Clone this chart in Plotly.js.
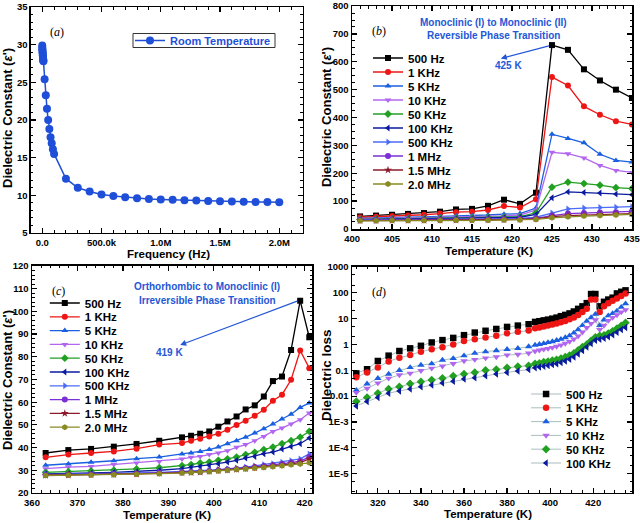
<!DOCTYPE html>
<html><head><meta charset="utf-8">
<script src="https://cdn.plot.ly/plotly-3.0.1.min.js"></script>
<style>html,body{margin:0;padding:0;background:#fff}#chart{width:640px;height:523px}</style>
</head><body><div id="chart"></div><script>
// ---------- Panel (a) ----------
var freqA = [100,500,1000,2000,3000,4000,5000,6000,7000,8000,9000,10000,
  20000,30000,40000,50000,60000,70000,80000,90000,100000,
  200000,300000,400000,500000,600000,700000,800000,900000,1000000,
  1100000,1200000,1300000,1400000,1500000,1600000,1700000,1800000,1900000,2000000];
var epsA = [29.9,29.6,29.4,29.2,29.0,28.8,28.6,28.4,28.2,28.0,27.9,27.8,
  25.4,23.3,21.5,20.0,18.8,17.7,16.9,16.1,15.5,
  12.2,11.0,10.5,10.1,9.9,9.75,9.6,9.5,9.45,
  9.4,9.35,9.3,9.25,9.2,9.18,9.15,9.12,9.1,9.08];
var nameA = 'Room Temperature';
var tickValsA = [0,500000,1000000,1500000,2000000];
var tickTextA = ['0.0','500.0k','1.0M','1.5M','2.0M'];

// ---------- Panel (b) ----------
var tempB = [401,403,405,407,409,411,413,415,417,419,421,423,425,427,429,431,433,435];
var namesB = ['500 Hz','1 KHz','5 KHz','10 KHz','50 KHz','100 KHz','500 KHz','1 MHz','1.5 MHz','2.0 MHz'];
var b500  = [45,48,51,54,57,62,70,72,83,105,90,130,660,643,573,533,500,470];
var b1k   = [42,44,46,48,51,55,60,62,68,82,77,107,545,515,440,410,387,375];
var b5k   = [38,39,40,42,43,45,47,48,50,53,55,75,340,325,309,268,246,240];
var b10k  = [36,37,38,39,40,41,43,44,45,47,50,68,275,270,255,228,210,203];
var b50k  = [34,35,35,36,37,38,39,40,41,42,44,58,150,168,163,157,148,145];
var b100k = [33,34,34,35,35,36,37,38,39,40,42,52,112,133,131,129,125,123];
var b500k = [32,32,33,33,34,34,35,35,36,37,38,42,57,72,75,77,78,80];
var b1M   = [31,31,32,32,32,33,33,34,34,35,36,38,48,55,57,59,60,63];
var b15M  = [30,30,31,31,31,32,32,32,33,33,34,36,44,48,50,52,53,55];
var b2M   = [29,29,30,30,30,30,31,31,31,32,32,34,40,44,46,48,50,52];
var seriesB = [b500,b1k,b5k,b10k,b50k,b100k,b500k,b1M,b15M,b2M];

// ---------- Panel (c) ----------
var tempC = [363,368,373,378,383,388,393,395,397,399,401,403,405,407,409,411,413,415,417,419,421];
var c500  = [37.6,38.9,39.4,40.4,41.6,43.0,44.5,45.2,46.1,47.1,49.2,51.5,53.7,56.8,58.6,62.5,69.3,71.3,83.0,104.7,88.6];
var c1k   = [35.7,36.9,37.6,38.3,39.5,41.3,42.0,43.0,43.9,44.9,46.1,47.9,49.9,51.8,54.0,56.7,60.6,63.3,69.9,82.8,75.0];
var c5k   = [32.2,32.8,33.5,34.2,35.1,35.8,37.2,37.6,38.3,39.1,40.2,41.7,43.0,44.6,46.4,48.3,50.4,52.6,54.7,57.7,59.6];
var c10k  = [30.7,31.4,31.7,32.5,33.2,33.9,35.0,35.7,36.1,36.9,37.6,38.6,40.1,41.3,43.0,44.9,47.1,48.6,50.4,52.3,55.2];
var c50k  = [29.1,29.4,29.7,30.0,30.6,31.1,32.0,32.5,33.2,33.6,34.4,35.0,35.8,36.9,37.9,39.1,40.2,41.7,43.0,44.6,47.1];
var c100k = [28.4,28.5,28.8,29.1,29.4,30.0,30.7,31.3,31.7,32.2,32.9,33.6,34.4,35.4,36.1,37.3,38.0,39.4,40.5,41.7,44.2];
var c500k = [28.1,28.2,28.4,28.5,28.8,29.1,29.4,29.5,29.7,30.0,30.3,30.6,31.0,31.4,31.9,32.5,32.9,33.5,34.2,35.0,37.2];
var c1M   = [27.9,28.0,28.2,28.3,28.5,28.8,29.1,29.2,29.4,29.7,30.0,30.3,30.6,31.0,31.4,31.9,32.3,32.8,33.4,34.0,35.8];
var c15M  = [27.8,27.9,28.0,28.1,28.3,28.6,28.9,29.0,29.2,29.5,29.8,30.1,30.4,30.7,31.1,31.5,31.9,32.3,32.8,33.4,35.0];
var c2M   = [27.7,27.8,27.9,28.0,28.2,28.5,28.8,29.0,29.2,29.4,29.7,30.0,30.3,30.6,30.9,31.2,31.6,32.0,32.4,32.8,33.3];
var seriesC = [c500,c1k,c5k,c10k,c50k,c100k,c500k,c1M,c15M,c2M];

// ---------- Panel (d) ----------
var tempD = [310,315,320,325,330,335,340,345,350,355,360,365,370,375,380,385,390,
  393,395,397,399,401,403,405,407,409,411,413,415,417,419,421,423,425,427,429,431,433,435];
var namesD = ['500 Hz','1 KHz','5 KHz','10 KHz','50 KHz','100 KHz'];
var d500  = [0.076,0.11,0.23,0.37,0.56,0.71,0.89,1.2,1.48,1.8,2.3,2.9,3.4,4.0,4.8,5.4,6.1,
  7.5,8.0,8.6,9.2,10,11,12.5,14,16,19,24,30,40,90,90,30,45,55,65,95,110,125];
var d1k   = [0.054,0.082,0.13,0.22,0.31,0.39,0.53,0.65,0.78,1.0,1.36,1.6,1.88,2.2,2.7,3.1,3.5,
  4.3,4.6,5.0,5.4,5.9,6.5,7.3,8.2,9.5,11,14,18,24,55,55,18,30,40,50,60,75,95];
var d5k   = [0.017,0.03,0.049,0.072,0.1,0.13,0.16,0.18,0.25,0.29,0.37,0.46,0.53,0.58,0.65,0.71,0.83,
  0.95,1.02,1.1,1.2,1.3,1.45,1.6,1.85,2.2,2.8,3.8,5.5,8,11,15,5.5,9,13,16,20,28,38];
var d10k  = [0.0137,0.02,0.032,0.049,0.066,0.077,0.097,0.12,0.145,0.18,0.23,0.26,0.3,0.33,0.39,0.41,0.46,
  0.55,0.6,0.65,0.7,0.76,0.84,0.95,1.1,1.3,1.6,2.1,3,4.5,6.5,9,3.8,5.5,8.5,11,14,18,22];
var d50k  = [0.0062,0.0088,0.013,0.019,0.023,0.03,0.036,0.042,0.049,0.06,0.072,0.083,0.1,0.107,0.125,0.14,0.15,
  0.18,0.19,0.21,0.22,0.24,0.26,0.29,0.33,0.38,0.46,0.6,0.8,1.0,1.4,1.9,2.2,2.3,2.7,3.3,4.2,5.3,7];
var d100k = [0.0042,0.0062,0.0088,0.013,0.016,0.019,0.023,0.027,0.032,0.038,0.046,0.052,0.062,0.072,0.083,0.095,0.107,
  0.125,0.135,0.145,0.155,0.17,0.18,0.2,0.23,0.27,0.33,0.43,0.58,0.8,1.1,1.45,1.6,1.75,2.0,2.4,3.0,3.8,4.6];
var seriesD = [d500,d1k,d5k,d10k,d50k,d100k];
var tickValsD = [1e-5,1e-4,1e-3,0.01,0.1,1,10,100,1000];
var tickTextD = ['1E-5','1E-4','1E-3','0.01','0.1','1','10','100','1000'];

// ---------- styles ----------
var colors  = ['#000000','#ee1515','#1a5fe0','#b266f0','#22a022','#0a1a9e','#4a6cf7','#7b2fd6','#8c1a2a','#8a8a22'];
var symbols = ['square','circle','triangle-up','triangle-down','diamond','triangle-left','triangle-right','circle','star','hexagon'];
var blue = '#2457d6';
var F = 'Liberation Sans, Arial, sans-serif';
var SERIF = 'Liberation Serif, Times New Roman, serif';
var H = 523;

var layout = {
  width:640, height:H, margin:{l:0,r:0,t:0,b:0},
  paper_bgcolor:'#fff', plot_bgcolor:'#fff', showlegend:true,
  font:{family:F, color:'#000'}
};

// one single-entry legend per series so the rows can sit as close as in the reference
var legendN = 1;
function addLegend(xFrac, yPx, fontColor, fontSize){
  var id = legendN === 1 ? 'legend' : 'legend' + legendN;
  legendN++;
  layout[id] = {x:xFrac, y:1 - yPx / H, xanchor:'left', yanchor:'middle',
    bgcolor:'rgba(0,0,0,0)', borderwidth:0,
    font:{family:F, size:fontSize, color:fontColor, weight:'bold'}};
  return id;
}

var traces = [];
traces.push({x:freqA, y:epsA, name:nameA, mode:'lines+markers', xaxis:'x', yaxis:'y',
  legend:addLegend(130/640, 40.5, '#1f4fd8', 11),
  line:{color:'#1f4fd8', width:1.5}, marker:{color:'#1f4fd8', size:8, symbol:'circle'}});
seriesB.forEach(function(s,i){
  traces.push({x:tempB, y:s, name:namesB[i], mode:'lines+markers', xaxis:'x2', yaxis:'y2',
    legend:addLegend(0.575, 58 + 14*i, '#000', 11.5),
    line:{color:colors[i], width:1.3}, marker:{color:colors[i], size:6, symbol:symbols[i]}});
});
seriesC.forEach(function(s,i){
  traces.push({x:tempC, y:s, name:namesB[i], mode:'lines+markers', xaxis:'x3', yaxis:'y3',
    legend:addLegend(0.07, 303 + 13.8*i, '#000', 11.5),
    line:{color:colors[i], width:1.3}, marker:{color:colors[i], size:6, symbol:symbols[i]}});
});
seriesD.forEach(function(s,i){
  traces.push({x:tempD, y:s, name:namesD[i], mode:'lines+markers', xaxis:'x4', yaxis:'y4',
    legend:addLegend(0.822, 394 + 13.8*i, '#000', 11.5),
    line:{color:'rgba(110,145,145,0.6)', width:1}, marker:{color:colors[i], size:6.5, symbol:symbols[i]}});
});

function minor(dt){ return {ticks:'inside', ticklen:2.5, tickwidth:1, tickcolor:'#000', showgrid:false, dtick:dt}; }
function ax(extra){
  var base = {
    showline:true, linecolor:'#000', linewidth:1.5, mirror:'allticks',
    ticks:'inside', ticklen:5, tickwidth:1.2, tickcolor:'#000',
    showgrid:false, zeroline:false, ticklabeloverflow:'allow',
    tickfont:{family:F, size:9.5, color:'#000', weight:'bold'}
  };
  for (var k in extra) base[k] = extra[k];
  return base;
}
function axTitle(t, x, y, sz, rot){
  return {xref:'paper', yref:'paper', x:x, y:y, xanchor:'center', yanchor:'middle', text:t, showarrow:false,
    textangle:rot ? -90 : 0, font:{family:F, size:sz, color:'#000', weight:'bold'}};
}
function blueText(xr, yr, x, y, t){
  return {xref:xr, yref:yr, x:x, y:y, text:t, showarrow:false, font:{family:F, size:10, color:blue, weight:'bold'}};
}
function panelLabel(n, t){
  return {xref:'x'+n+' domain', yref:'y'+n+' domain', x:0.064, y:0.93, text:'(<i>'+t+'</i>)', showarrow:false,
    font:{family:SERIF, size:12, color:'#000'}};
}
var yTitle = 'Dielectric Constant (<i>ε</i>\')';

layout.xaxis  = ax({domain:[0.0484,0.4734], range:[-95000,2200000], tickmode:'array', tickvals:tickValsA, ticktext:tickTextA,
  minor:minor(100000), anchor:'y'});
layout.yaxis  = ax({domain:[0.5545,0.9866], range:[4.99,35.01], dtick:5, tick0:5, minor:minor(1), anchor:'x'});
layout.xaxis2 = ax({domain:[0.55,0.9875], range:[399.99,435.01], dtick:5, tick0:400, minor:minor(1), anchor:'y2'});
layout.yaxis2 = ax({domain:[0.5621,0.9885], range:[-0.3,800.3], dtick:100, tick0:0, minor:minor(25), anchor:'x2'});
layout.xaxis3 = ax({domain:[0.05,0.4875], range:[360,421.6], dtick:10, tick0:360, minor:minor(2), anchor:'y3'});
layout.yaxis3 = ax({domain:[0.0574,0.4914], range:[19.99,120.01], dtick:10, tick0:20, minor:minor(2), anchor:'x3'});
layout.xaxis4 = ax({domain:[0.55,0.9875], range:[308,438], dtick:20, tick0:320, minor:minor(5), anchor:'y4'});
layout.yaxis4 = ax({domain:[0.0574,0.4895], type:'log', range:[-5.75,3.002], tickmode:'array', tickvals:tickValsD, ticktext:tickTextD,
  minor:minor('D2'), anchor:'x4'});

layout.shapes = [
  {type:'rect', xref:'paper', yref:'paper', x0:133/640, x1:275/640, y0:1-47.5/H, y1:1-33.5/H,
   line:{color:'#333', width:1}, fillcolor:'rgba(0,0,0,0)', layer:'above'}
];

layout.annotations = [
  panelLabel('', 'a'), panelLabel('2', 'b'), panelLabel('3', 'c'), panelLabel('4', 'd'),
  axTitle(yTitle, 0.0125, 0.7744, 13, true),
  axTitle('Frequency (Hz)', 0.264, 1 - 254/H, 11.5, false),
  axTitle(yTitle, 0.511, 0.7763, 13, true),
  axTitle('Temperature (K)', 0.764, 1 - 251.5/H, 11.5, false),
  axTitle(yTitle, 0.011, 0.2734, 13, true),
  axTitle('Temperature (K)', 0.261, 1 - 515/H, 11.5, false),
  axTitle('Dielectric loss', 0.511, 0.283, 13.5, true),
  axTitle('Temperature (K)', 0.7625, 1 - 514/H, 11.5, false),
  blueText('x2','y2', 417.7, 740, 'Monoclinic (I) to Monoclinic (II)'),
  blueText('x2','y2', 417.7, 696, 'Reversible Phase Transition'),
  blueText('x2','y2', 419.6, 585, '425 K'),
  {xref:'x2', yref:'y2', x:418.6, y:612, ax:425, ay:660, axref:'x2', ayref:'y2', text:' ', showarrow:true,
    arrowhead:2, arrowsize:1, arrowwidth:1.2, arrowcolor:blue, standoff:0, startstandoff:0},
  blueText('x3','y3', 398.5, 110.9, 'Orthorhombic to Monoclinic (I)'),
  blueText('x3','y3', 398.5, 105.0, 'Irreversible Phase Transition'),
  blueText('x3','y3', 390.2, 81.7, '419 K'),
  {xref:'x3', yref:'y3', x:392.6, y:85.2, ax:419, ay:105, axref:'x3', ayref:'y3', text:' ', showarrow:true,
    arrowhead:2, arrowsize:1, arrowwidth:1.2, arrowcolor:blue, standoff:0, startstandoff:0}
];

Plotly.newPlot(document.getElementById('chart'), traces, layout, {staticPlot:true, displayModeBar:false});
</script></body></html>
